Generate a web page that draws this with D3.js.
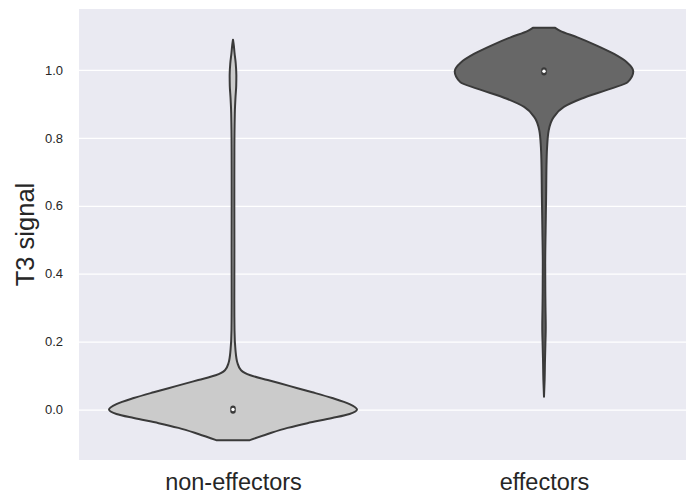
<!DOCTYPE html>
<html>
<head>
<meta charset="utf-8">
<script src="https://cdn.jsdelivr.net/npm/d3@7"></script>
<style>
  body { margin: 0; background: #ffffff; }
  text { font-family: "Liberation Sans", Arial, sans-serif; }
</style>
</head>
<body>
<div id="plot"></div>
<script>
// categories and violin profiles (value on y, relative half width)
const categories = ["non-effectors", "effectors"];
const fillColors = ["#cbcbcb", "#676767"];

const nonEffValues = [-0.090, -0.072, -0.054, -0.040, -0.025, -0.013, 0.000, 0.016, 0.034, 0.051, 0.069, 0.087, 0.101, 0.116, 0.137, 0.175, 0.234, 0.32, 0.47, 0.62, 0.76, 0.872, 0.919, 0.954, 0.984, 1.019, 1.051, 1.072, 1.089];
const nonEffDensity = [0.135, 0.28, 0.44, 0.60, 0.80, 0.94, 1.0, 0.94, 0.80, 0.64, 0.46, 0.28, 0.14, 0.065, 0.036, 0.02, 0.012, 0.0105, 0.011, 0.0105, 0.011, 0.0145, 0.02, 0.026, 0.027, 0.022, 0.012, 0.0065, 0];

const effValues = [0.038, 0.087, 0.146, 0.19, 0.243, 0.30, 0.351, 0.431, 0.528, 0.625, 0.734, 0.773, 0.822, 0.861, 0.891, 0.915, 0.945, 0.964, 0.996, 1.022, 1.047, 1.071, 1.096, 1.115, 1.124];
const effDensity = [0, 0.005, 0.008, 0.011, 0.014, 0.012, 0.0105, 0.0097, 0.013, 0.017, 0.021, 0.025, 0.038, 0.078, 0.16, 0.30, 0.54, 0.675, 0.72, 0.67, 0.565, 0.43, 0.27, 0.13, 0.09];

// inner box stats
const medians = [0.0, 0.996];
const q1s = [-0.004, 0.992];
const q3s = [0.004, 1.0];

const yTicks = [0.0, 0.2, 0.4, 0.6, 0.8, 1.0];

const W = 686, H = 494;
const plot = { left: 79, right: 686, top: 9, bottom: 460 };

const svg = d3.select("#plot").append("svg")
  .attr("width", W)
  .attr("height", H);

const x = d3.scalePoint()
  .domain(categories)
  .range([233, 544]);

const y = d3.scaleLinear()
  .domain([-0.1485, 1.1794])
  .range([plot.bottom, plot.top]);

// half width scale (seaborn width 0.8 -> 0.4 of a category step)
const halfW = d3.scaleLinear().domain([0, 1]).range([0, 124]);

svg.append("rect")
  .attr("x", plot.left)
  .attr("y", plot.top)
  .attr("width", plot.right - plot.left)
  .attr("height", plot.bottom - plot.top)
  .attr("fill", "#eaeaf2");

// grid
svg.append("g")
  .attr("transform", `translate(${plot.left},0)`)
  .call(d3.axisLeft(y).tickValues(yTicks).tickSize(-(plot.right - plot.left)).tickFormat(""))
  .call(g => g.select(".domain").remove())
  .call(g => g.selectAll("line").attr("stroke", "#ffffff").attr("stroke-width", 1.3));

// y axis labels
svg.append("g")
  .attr("transform", `translate(${plot.left},0)`)
  .call(d3.axisLeft(y).tickValues(yTicks).tickSize(0).tickPadding(16).tickFormat(d3.format(".1f")))
  .call(g => g.select(".domain").remove())
  .call(g => g.selectAll("text")
    .attr("fill", "#262626")
    .style("font-size", "13px")
    .style("font-family", "'Liberation Sans', Arial, sans-serif"));

// x axis labels
svg.append("g")
  .attr("transform", `translate(0,${plot.bottom})`)
  .call(d3.axisBottom(x).tickSize(0).tickPadding(13))
  .call(g => g.select(".domain").remove())
  .call(g => g.selectAll("text")
    .attr("fill", "#262626")
    .style("font-size", "23.5px")
    .style("font-family", "'Liberation Sans', Arial, sans-serif"));

svg.append("text")
  .attr("transform", `translate(34,${(plot.top + plot.bottom) / 2}) rotate(-90)`)
  .attr("text-anchor", "middle")
  .attr("fill", "#262626")
  .style("font-size", "25.5px")
  .text("T3 signal");

// violins
const profiles = [
  nonEffValues.map((v, i) => ({ v: v, d: nonEffDensity[i] })),
  effValues.map((v, i) => ({ v: v, d: effDensity[i] }))
];

svg.append("clipPath").attr("id", "plotclip")
  .append("rect")
  .attr("x", plot.left).attr("y", plot.top)
  .attr("width", plot.right - plot.left).attr("height", plot.bottom - plot.top);

const violins = svg.append("g").attr("clip-path", "url(#plotclip)");

categories.forEach((cat, i) => {
  const cx = x(cat);
  const area = d3.area()
    .y(d => y(d.v))
    .x0(d => cx - halfW(d.d))
    .x1(d => cx + halfW(d.d))
    .curve(d3.curveMonotoneY);

  violins.append("path")
    .datum(profiles[i])
    .attr("d", area)
    .attr("fill", fillColors[i])
    .attr("stroke", "#3a3a3a")
    .attr("stroke-width", 2)
    .attr("stroke-linejoin", "round");

  // inner box
  violins.append("line")
    .attr("x1", cx).attr("x2", cx)
    .attr("y1", y(q1s[i])).attr("y2", y(q3s[i]))
    .attr("stroke", "#3a3a3a")
    .attr("stroke-width", 5.5)
    .attr("stroke-linecap", "round");

  violins.append("circle")
    .attr("cx", cx)
    .attr("cy", y(medians[i]))
    .attr("r", 1.7)
    .attr("fill", "#ffffff");
});
</script>
</body>
</html>
